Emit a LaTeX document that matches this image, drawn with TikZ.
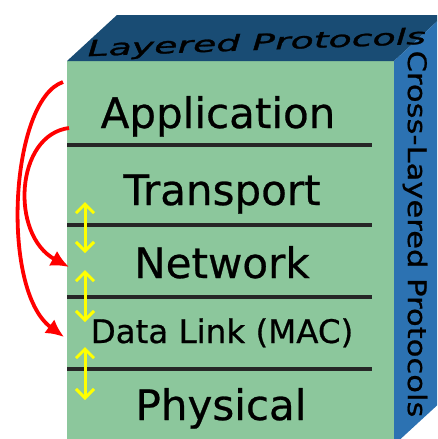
\documentclass[tikz,border=0pt]{standalone}
\usepackage{fontspec}
\setmainfont{DejaVu Sans}[FakeBold=0.6]
\newfontfamily\oblfont{DejaVu Sans Oblique}[FakeBold=1.2]
\newfontfamily\sidefont{DejaVu Sans}[FakeBold=0.8]
\usetikzlibrary{arrows.meta}
\definecolor{frontgreen}{RGB}{140,199,156}
\definecolor{topblue}{RGB}{25,76,116}
\definecolor{sideblue}{RGB}{44,114,178}
\definecolor{arrowyellow}{RGB}{255,255,0}
\begin{document}
\begin{tikzpicture}[x=1pt,y=-1pt,
  layertext/.style={font=\fontsize{42}{42}\selectfont, anchor=base, inner sep=0pt},
  smalllayer/.style={font=\fontsize{32.5}{32.5}\selectfont, anchor=base, inner sep=0pt},
  sep/.style={line width=3.2pt, black!85},
  yarrow/.style={draw=arrowyellow, line width=3pt, {Straight Barb[length=9pt,width=18pt]}-{Straight Barb[length=9pt,width=18pt]}},
  rarrow/.style={draw=red, line width=3.8pt, -{Latex[length=18pt,width=17pt]}}]
\useasboundingbox (0,0) rectangle (437,439);
\clip (0,0) rectangle (437,439);
% cube faces
\fill[frontgreen] (67,61) rectangle (394,450);
\fill[topblue] (67,61) -- (117,15) -- (444,15) -- (394,61) -- cycle;
\fill[sideblue] (394,61) -- (444,15) -- (444,399) -- (394,445) -- cycle;
% face labels
\node[anchor=base, inner sep=0pt, rotate=2.1] (top) at (257,50)
  {\scalebox{1.72}[1]{\oblfont\fontsize{22}{22}\selectfont Layered Protocols}};
\node[anchor=center, inner sep=0pt, rotate=-90] (side) at (415,234)
  {\scalebox{1.2}[1]{\sidefont\fontsize{25.5}{25.5}\selectfont Cross-Layered Protocols}};
% separators
\draw[sep] (67,145) -- (372,145);
\draw[sep] (67,225) -- (372,225);
\draw[sep] (67,297) -- (372,297);
\draw[sep] (67,369) -- (372,369);
% layer labels
\node[layertext] (app) at (218,128) {Application};
\node[layertext] (trans) at (222,205) {Transport};
\node[layertext] (net) at (222,278) {Network};
\node[smalllayer] (dl) at (222,343) {Data Link (MAC)};
\node[layertext] (phy) at (221,420) {Physical};
% yellow double arrows
\coordinate (y1a) at (85,202); \coordinate (y1b) at (85,253);
\coordinate (y2a) at (85,270); \coordinate (y2b) at (85,322);
\coordinate (y3a) at (85,347); \coordinate (y3b) at (85,400);
\draw[yarrow] (y1a) -- (y1b);
\draw[yarrow] (y2a) -- (y2b);
\draw[yarrow] (y3a) -- (y3b);
% red cross-layer arrows
\coordinate (r1s) at (63,82); \coordinate (r1e) at (64,337);
\coordinate (r2s) at (69,128); \coordinate (r2e) at (69,267);
\draw[rarrow] (r1s) .. controls (10,100) and (0,290) .. (r1e);
\draw[rarrow] (r2s) .. controls (15,135) and (10,235) .. (r2e);
\end{tikzpicture}
\end{document}
